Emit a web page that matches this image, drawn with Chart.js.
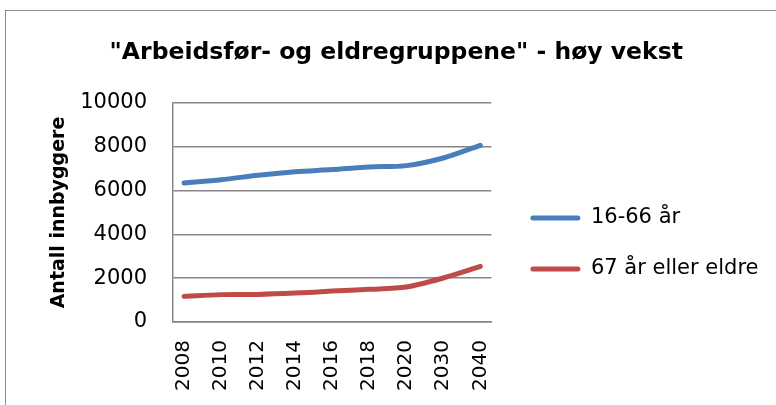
<!DOCTYPE html>
<html>
<head>
<meta charset="utf-8">
<script src="https://cdn.jsdelivr.net/npm/chart.js@4.4.1/dist/chart.umd.min.js"></script>
<style>
  html, body { margin: 0; padding: 0; background: #fff; }
  #wrap { position: relative; width: 776px; height: 405px; overflow: hidden; }
  #frame { position: absolute; left: 5px; top: 10px; width: 900px; height: 600px; border: 1px solid #8c8c8c; box-sizing: border-box; }
  canvas { position: absolute; left: 0; top: 0; }
</style>
</head>
<body>
<div id="wrap">
  <div id="frame"></div>
  <canvas id="c" width="776" height="405"></canvas>
</div>
<script>
const titleText = '"Arbeidsfør- og eldregruppene" - høy vekst';
const yAxisTitle = 'Antall innbyggere';
const categories = ['2008', '2010', '2012', '2014', '2016', '2018', '2020', '2030', '2040'];
const seriesNames = ['16-66 år', '67 år eller eldre'];
const workingAge = [6350, 6500, 6700, 6860, 6960, 7080, 7140, 7490, 8070];
const elderly = [1170, 1250, 1260, 1320, 1410, 1490, 1600, 2010, 2540];
const yTicks = [0, 2000, 4000, 6000, 8000, 10000];

const toPoints = arr => arr.map((v, i) => ({ x: i, y: v }));

const boxShift = {
  id: 'boxShift',
  afterLayout(chart) {
    const lg = chart.legend;
    if (lg) { lg.left += 9; lg.right += 9; lg.top += 41; lg.bottom += 41; }
    const tt = chart.titleBlock;
    if (tt) { tt.left += 9; tt.right += 9; }
  }
};

Chart.defaults.color = '#000';
Chart.defaults.font.family = '"DejaVu Sans", sans-serif';

new Chart(document.getElementById('c'), {
  type: 'line',
  data: {
    datasets: [
      { label: seriesNames[0], data: toPoints(workingAge), borderColor: '#4A7EBB', backgroundColor: '#4A7EBB', borderWidth: 5, pointRadius: 0, tension: 0.3, borderCapStyle: 'round', borderJoinStyle: 'round' },
      { label: seriesNames[1], data: toPoints(elderly), borderColor: '#BE4B48', backgroundColor: '#BE4B48', borderWidth: 5, pointRadius: 0, tension: 0.3, borderCapStyle: 'round', borderJoinStyle: 'round' }
    ]
  },
  options: {
    responsive: false,
    animation: false,
    layout: { padding: { left: 15, right: 16.5, top: 0, bottom: 0 } },
    plugins: {
      title: { display: true, text: titleText, font: { size: 23.5, weight: 'bold' }, padding: { top: 38.5, bottom: 36.3 }, color: '#000' },
      legend: {
        position: 'right',
        maxWidth: 400,
        labels: {
          boxWidth: 50, boxHeight: 5, padding: 30, font: { size: 21 }, color: '#000',
          useBorderRadius: true, borderRadius: 2.5,
          generateLabels: chart => Chart.defaults.plugins.legend.labels.generateLabels(chart).map(l => Object.assign(l, { lineWidth: 0, fillStyle: l.strokeStyle }))
        }
      },
      tooltip: { enabled: false }
    },
    scales: {
      x: {
        type: 'linear', min: -0.3, max: 8.3,
        afterBuildTicks: s => { s.ticks = categories.map((_, i) => ({ value: i })); },
        afterFit: s => { s.height = 83; },
        grid: { display: false, drawTicks: false },
        border: { display: true, color: '#868686', width: 1.5 },
        ticks: { callback: v => categories[v], minRotation: 90, maxRotation: 90, padding: 18, font: { size: 20 }, color: '#000', autoSkip: false }
      },
      y: {
        min: 0, max: 10000,
        afterBuildTicks: s => { s.ticks = yTicks.map(v => ({ value: v })); },
        afterFit: s => { s.width = 158; },
        grid: { color: '#868686', lineWidth: 1.5, drawTicks: false },
        border: { display: true, color: '#868686', width: 1.5 },
        ticks: { callback: v => String(v), padding: 26, font: { size: 21 }, color: '#000' },
        title: { display: true, text: yAxisTitle, font: { size: 19, weight: 'bold' }, padding: { top: 33, bottom: 12 }, color: '#000' }
      }
    }
  },
  plugins: [boxShift]
});
</script>
</body>
</html>
